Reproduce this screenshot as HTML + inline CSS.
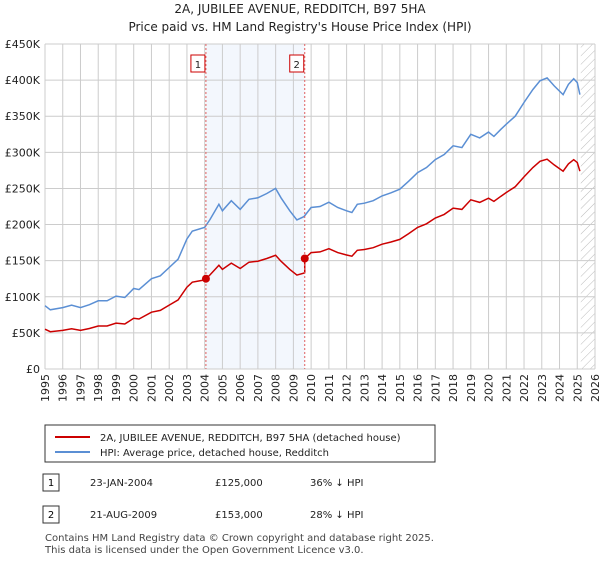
<!DOCTYPE html>
<html><head><meta charset="utf-8"><style>
body{margin:0;background:#fff;font-family:"Liberation Sans","DejaVu Sans",sans-serif;}
svg text{font-family:"DejaVu Sans","Liberation Sans",sans-serif;}
</style></head><body>
<svg id="c" width="600" height="560" xmlns="http://www.w3.org/2000/svg">
<defs><pattern id="hatch" width="6" height="6" patternUnits="userSpaceOnUse" patternTransform="rotate(45)"><line x1="0" y1="0" x2="0" y2="6" stroke="#bbb" stroke-width="1"/></pattern></defs>
<text x="300" y="13" text-anchor="middle" font-size="12" fill="#222">2A, JUBILEE AVENUE, REDDITCH, B97 5HA</text>
<text x="300" y="31" text-anchor="middle" font-size="12" fill="#222">Price paid vs. HM Land Registry's House Price Index (HPI)</text>
<g id="grid"></g><g id="marks"></g><g id="axes"></g>
<rect x="45" y="425" width="390" height="37" fill="#fff" stroke="#333"/>
<line x1="55" y1="437" x2="90" y2="437" stroke="#cc0000" stroke-width="2"/>
<text x="100" y="441" font-size="10" fill="#222">2A, JUBILEE AVENUE, REDDITCH, B97 5HA (detached house)</text>
<line x1="55" y1="452" x2="90" y2="452" stroke="#5b8fd4" stroke-width="2"/>
<text x="100" y="456" font-size="10" fill="#222">HPI: Average price, detached house, Redditch</text>
<g>
<rect x="43" y="474" width="16" height="17" fill="#fff" stroke="#333"/><text x="51" y="486" text-anchor="middle" font-size="10">1</text>
<text x="90" y="486" font-size="10" fill="#222">23-JAN-2004</text><text x="215" y="486" font-size="10" fill="#222">£125,000</text><text x="310" y="486" font-size="10" fill="#222">36% ↓ HPI</text></g>
<g>
<rect x="43" y="506" width="16" height="17" fill="#fff" stroke="#333"/><text x="51" y="518" text-anchor="middle" font-size="10">2</text>
<text x="90" y="518" font-size="10" fill="#222">21-AUG-2009</text><text x="215" y="518" font-size="10" fill="#222">£153,000</text><text x="310" y="518" font-size="10" fill="#222">28% ↓ HPI</text></g>
<text x="45" y="541" font-size="10" fill="#444">Contains HM Land Registry data © Crown copyright and database right 2025.</text>
<text x="45" y="553" font-size="10" fill="#444">This data is licensed under the Open Government Licence v3.0.</text>
</svg>
<script>
const hpiYears=[1995,1995.3,1996,1996.5,1997,1997.5,1998,1998.5,1999,1999.5,2000,2000.3,2001,2001.5,2002,2002.5,2003,2003.3,2004,2004.3,2004.8,2005,2005.5,2006,2006.5,2007,2007.5,2008,2008.3,2008.8,2009.2,2009.6,2010,2010.5,2011,2011.5,2012,2012.3,2012.6,2013,2013.5,2014,2014.5,2015,2015.5,2016,2016.5,2017,2017.5,2018,2018.5,2019,2019.5,2020,2020.3,2020.7,2021,2021.5,2022,2022.5,2022.9,2023.3,2023.7,2024.2,2024.5,2024.8,2025.0,2025.15];
const hpiValues=[87.6,82,85,88.5,85,89,94.5,94.5,101,99,111.5,110,125,129,140.6,152,180,191,196,207,228,219,233,221,235,237,243,250,237,219,206.5,211,223.6,225,231,223.6,219,216.7,228,229.6,233,239.7,244,249,260,272,279,290,297,309,306.6,325,320,328,322,332,339,350,369,387,399,403,392,380,394,402,396.5,380];
const saleDates=[2004.07,2009.64];
const salePrices=[125,153];
const yTicks=[0,50,100,150,200,250,300,350,400,450];
const yTickLabels=["£0","£50K","£100K","£150K","£200K","£250K","£300K","£350K","£400K","£450K"];
const xTicks=[1995,1996,1997,1998,1999,2000,2001,2002,2003,2004,2005,2006,2007,2008,2009,2010,2011,2012,2013,2014,2015,2016,2017,2018,2019,2020,2021,2022,2023,2024,2025,2026];
const X0=45,X1=595,Y0=369,Y1=44,xMin=1995,xMax=2026,yMax=450,dataEnd=2025.2;
const sx=t=>X0+(t-xMin)/(xMax-xMin)*(X1-X0);
const sy=v=>Y0-v/yMax*(Y0-Y1);
const NS="http://www.w3.org/2000/svg";
function mk(tag,attrs,parent,txt){const e=document.createElementNS(NS,tag);for(const k in attrs)e.setAttribute(k,attrs[k]);if(txt!=null)e.textContent=txt;parent.appendChild(e);return e;}
const grid=document.getElementById('grid'),marks=document.getElementById('marks'),axes=document.getElementById('axes');
let e=mk('rect',{x:sx(saleDates[0]),y:Y1,width:sx(saleDates[1])-sx(saleDates[0]),height:Y0-Y1,fill:'#eef3fc',opacity:0.7},grid);


e=mk('rect',{x:sx(dataEnd),y:Y1,width:X1-sx(dataEnd),height:Y0-Y1,fill:'url(#hatch)'},grid);


xTicks.forEach(t=>{const l=mk('line',{x1:sx(t),x2:sx(t),y1:Y1,y2:Y0,stroke:'#ccc'},grid);


const x=sx(t)+4,y=Y0+5;
const tx=mk('text',{x:x,y:y,'text-anchor':'end','font-size':11,fill:'#222',transform:'rotate(-90 '+x+' '+y+')'},axes,String(t));

});
yTicks.forEach((v,i)=>{const l=mk('line',{x1:X0,x2:X1,y1:sy(v),y2:sy(v),stroke:'#ccc'},grid);


const tx=mk('text',{x:X0-5,y:sy(v)+4,'text-anchor':'end','font-size':11,fill:'#222'},axes,yTickLabels[i]);

});
function hpiAt(t){for(let i=0;i<hpiYears.length-1;i++){if(t>=hpiYears[i]&&t<=hpiYears[i+1]){const f=(t-hpiYears[i])/(hpiYears[i+1]-hpiYears[i]);return hpiValues[i]+f*(hpiValues[i+1]-hpiValues[i]);}}return hpiValues[hpiValues.length-1];}
const hp=hpiYears.map((t,i)=>sx(t).toFixed(1)+','+sy(hpiValues[i]).toFixed(1)).join(' ');
e=mk('polyline',{points:hp,fill:'none',stroke:'#5b8fd4','stroke-width':1.5},marks);


const rp=[];
hpiYears.forEach((t,i)=>{let k=0;for(let j=0;j<saleDates.length;j++)if(t>=saleDates[j])k=j;
if(i>0&&hpiYears[i-1]<saleDates[k]&&t>=saleDates[k]&&k>0){const r0=salePrices[k-1]/hpiAt(saleDates[k-1]);rp.push(sx(saleDates[k])+','+sy(hpiAt(saleDates[k])*r0));rp.push(sx(saleDates[k])+','+sy(salePrices[k]));}
const r=salePrices[k]/hpiAt(saleDates[k]);rp.push(sx(t).toFixed(1)+','+sy(hpiValues[i]*r).toFixed(1));});
e=mk('polyline',{points:rp.join(' '),fill:'none',stroke:'#cc0000','stroke-width':1.5},marks);


saleDates.forEach((t,i)=>{const l=mk('line',{x1:sx(t),x2:sx(t),y1:Y1,y2:Y0,stroke:'#e06060','stroke-dasharray':'2,2'},marks);


const b=mk('rect',{x:sx(t)-15,y:55,width:14,height:17,fill:'#fff',stroke:'#cc0000'},marks);


const tx=mk('text',{x:sx(t)-8,y:68,'text-anchor':'middle','font-size':10,fill:'#222'},marks,String(i+1));


const c=mk('circle',{cx:sx(t),cy:sy(salePrices[i]),r:4,fill:'#cc0000'},marks);

});
</script>
</body></html>
